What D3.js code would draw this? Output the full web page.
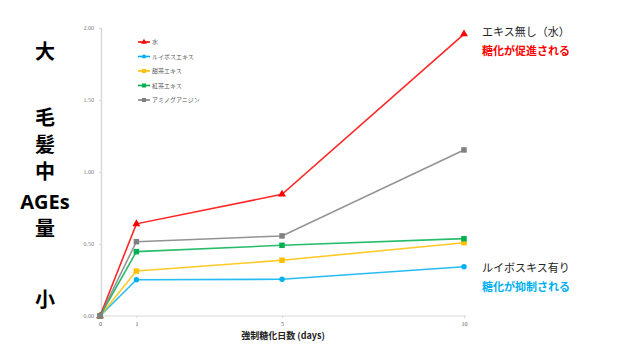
<!DOCTYPE html>
<html><head><meta charset="utf-8">
<script src="https://cdn.jsdelivr.net/npm/d3@7"></script>
<style>body{margin:0;background:#fff}svg{display:block}</style>
</head><body>
<svg id="c" width="640" height="361"></svg>
<script>
const days = [0, 1, 5, 10];
const seriesNames = ["水", "ルイボスエキス", "甜茶エキス", "紅茶エキス", "アミノグアニジン"];
const water = [0, 0.64, 0.845, 1.958];
const rooibos = [0, 0.252, 0.255, 0.342];
const tencha = [0, 0.312, 0.387, 0.509];
const blackTea = [0, 0.447, 0.491, 0.537];
const aminoguanidine = [0, 0.516, 0.556, 1.153];
const yTicks = [0, 0.5, 1.0, 1.5, 2.0];
const xTicks = [0, 1, 5, 10];

const colors = ["#ff0000", "#00b0f0", "#ffc000", "#00b050", "#808080"];
const markers = ["triangle", "circle", "square", "square", "square"];
const allSeries = [water, rooibos, tencha, blackTea, aminoguanidine];

const svg = d3.select("#c");
const x = d3.scaleLinear().domain([0, 10]).range([100, 464]);
const y = d3.scaleLinear().domain([0, 2]).range([316, 28]);

// axes
const yAxis = svg.append("g").attr("transform", "translate(101,0)")
  .call(d3.axisLeft(y).tickValues(yTicks).tickFormat(d3.format(".2f")).tickSize(2).tickPadding(5));
yAxis.select(".domain").attr("stroke", "#d9d9d9").attr("stroke-width", 1.5);
yAxis.selectAll(".tick line").attr("stroke", "#d9d9d9");
yAxis.selectAll("text").attr("fill", "#7f7f7f").attr("font-size", 6).attr("font-family", "Liberation Serif");

const xAxis = svg.append("g").attr("transform", "translate(0,316)")
  .call(d3.axisBottom(x).tickValues(xTicks).tickSize(2).tickPadding(4));
xAxis.select(".domain").attr("stroke", "#d9d9d9").attr("d", "M100,0H466");
xAxis.selectAll(".tick line").attr("stroke", "#d9d9d9");
xAxis.selectAll("text").attr("fill", "#595959").attr("font-size", 6).attr("font-family", "Liberation Serif");

// lines
const line = d3.line().x((d, i) => x(days[i])).y(d => y(d));
allSeries.forEach((s, k) => {
  svg.append("path").datum(s).attr("d", line).attr("fill", "none")
    .attr("stroke", colors[k]).attr("stroke-width", 1.6).attr("stroke-opacity", 0.85);
});
function drawMarker(g, type, cx, cy, col, size) {
  if (type === "circle") g.append("circle").attr("cx", cx).attr("cy", cy).attr("r", size / 2).attr("fill", col);
  else if (type === "square") g.append("rect").attr("x", cx - size / 2).attr("y", cy - size / 2).attr("width", size).attr("height", size).attr("fill", col);
  else g.append("path").attr("d", d3.symbol().type(d3.symbolTriangle).size(size * size * 0.9)()).attr("transform", `translate(${cx},${cy})`).attr("fill", col);
}
allSeries.forEach((s, k) => {
  const g = svg.append("g");
  s.forEach((v, i) => drawMarker(g, markers[k], x(days[i]), y(v), colors[k], 5.5));
});

// legend
seriesNames.forEach((n, k) => {
  const ly = 42 + k * 14.5;
  svg.append("line").attr("x1", 138).attr("x2", 150).attr("y1", ly).attr("y2", ly)
    .attr("stroke", colors[k]).attr("stroke-width", 1.6);
  drawMarker(svg, markers[k], 144, ly, colors[k], 4);
  svg.append("text").attr("x", 152).attr("y", ly + 2).attr("font-size", 6)
    .attr("fill", "#595959").attr("font-family", "Noto Sans CJK JP").text(n);
});

// x title
svg.append("text").attr("x", 283).attr("y", 339).attr("text-anchor", "middle")
  .attr("font-size", 9).attr("font-weight", "bold").attr("fill", "#222")
  .attr("font-family", "Noto Sans CJK JP").text("強制糖化日数 (days)");

// left labels
const leftLabels = [["大", 52], ["毛", 118], ["髪", 145], ["中", 172], ["AGEs", 202], ["量", 229], ["小", 300]];
leftLabels.forEach(([t, yy]) => {
  svg.append("text").attr("x", 45).attr("y", yy + 7).attr("text-anchor", "middle")
    .attr("font-size", 20).attr("font-weight", "bold").attr("fill", "#000")
    .attr("font-family", t === "AGEs" ? "Open Sans" : "Noto Sans CJK JP").text(t);
});

// annotations
const ann = [["エキス無し（水）", 36, "#222", "normal"], ["糖化が促進される", 55, "#ff0000", "bold"],
             ["ルイボスキス有り", 272, "#222", "normal"], ["糖化が抑制される", 291, "#00b0f0", "bold"]];
ann.forEach(([t, yy, c, w]) => {
  svg.append("text").attr("x", 482).attr("y", yy).attr("font-size", 11).attr("font-weight", w)
    .attr("fill", c).attr("font-family", "Noto Sans CJK JP").text(t);
});
</script>
</body></html>
